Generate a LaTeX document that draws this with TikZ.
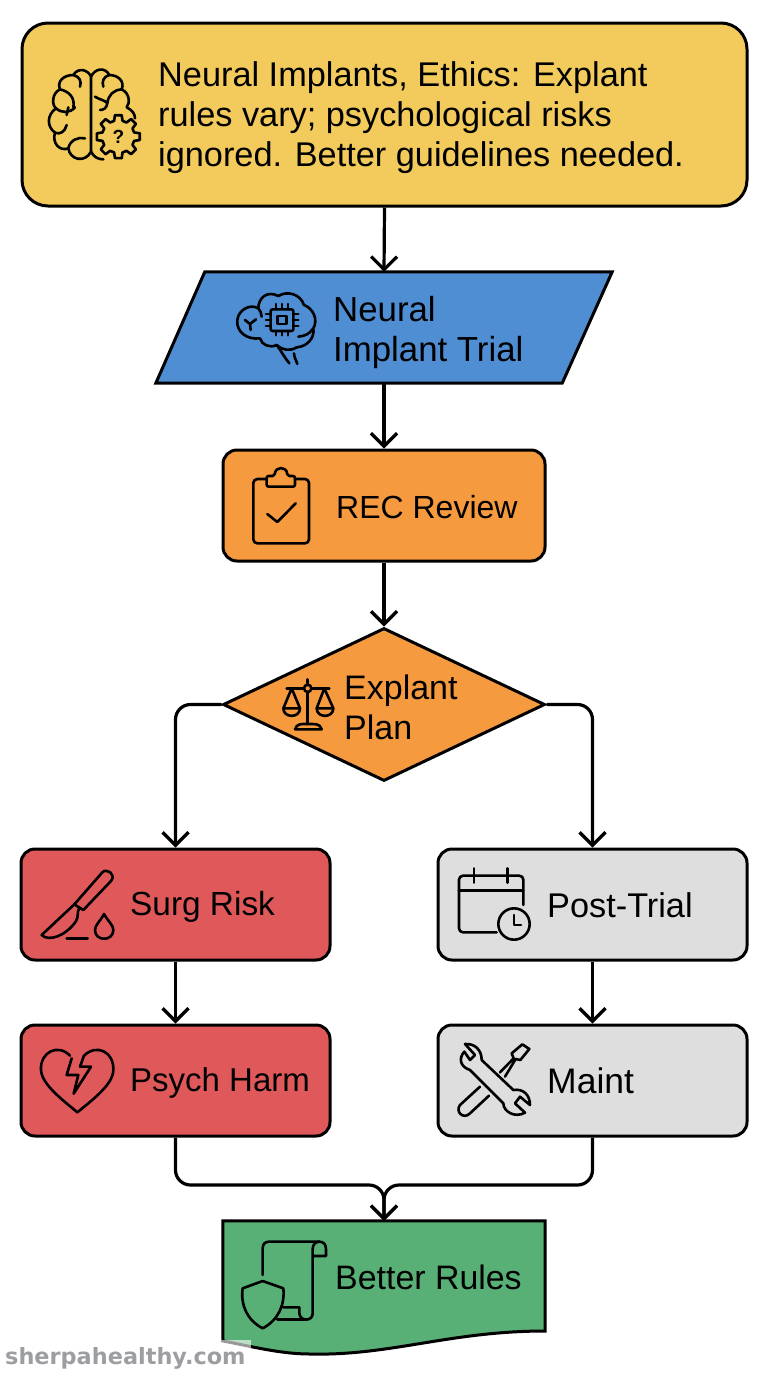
\documentclass[tikz,border=0pt]{standalone}
\usepackage{fontspec}
\setmainfont{Liberation Sans}
\newfontfamily\markfont{DejaVu Sans}
\usetikzlibrary{arrows.meta, positioning, shapes.geometric, calc, backgrounds}
\definecolor{shyellow}{HTML}{F2CB5C}
\definecolor{shblue}{HTML}{4F8ED2}
\definecolor{shorange}{HTML}{F59A3F}
\definecolor{shred}{HTML}{E0595A}
\definecolor{shgrey}{HTML}{DEDEDE}
\definecolor{shgreen}{HTML}{58B076}
\definecolor{shmark}{HTML}{9C9EA2}
\tikzset{
  shapeline/.style={draw=black, line width=3pt},
  flowbox/.style={shapeline, rounded corners=14pt, minimum height=111pt, inner sep=0pt},
  flowline/.style={black, line width=3.2pt, rounded corners=15pt, -{Straight Barb[length=13pt, width=26pt, line width=3.2pt]}},
  iconline/.style={black, line width=2.6pt, line cap=round, line join=round},
  flowtext/.style={anchor=west, inner sep=0pt, align=left, font=\fontsize{#1}{40}\selectfont},
}
\begin{document}
\begin{tikzpicture}[x=1pt, y=-1pt]
\useasboundingbox (0,0) rectangle (768,1376);

% Boxes
\node[flowbox, rounded corners=26pt, fill=shyellow, minimum width=725pt, minimum height=183pt] (summary) at (384.5,114.5) {};
\node[inner sep=0pt, minimum width=456pt, minimum height=111pt] (trial) at (384,327.5) {};
\node[flowbox, fill=shorange, minimum width=322pt] (review) at (384,505.5) {};
\node[shapeline, fill=shorange, diamond, aspect=2.1, inner sep=0pt, minimum width=322pt, minimum height=153pt] (plan) at (384,704.5) {};
\node[flowbox, fill=shred, minimum width=309pt] (surg) at (175.5,904.5) {};
\node[flowbox, fill=shred, minimum width=309pt] (psych) at (175.5,1080.5) {};
\node[flowbox, fill=shgrey, minimum width=309pt] (post) at (592.5,904.5) {};
\node[flowbox, fill=shgrey, minimum width=309pt] (maint) at (592.5,1080.5) {};
\node[inner sep=0pt, minimum width=322pt, minimum height=110pt] (rules) at (384,1276) {};
\begin{scope}[on background layer]
  \draw[shapeline, fill=shblue, line join=miter] ($(trial.north west)+(49,0)$) -- (trial.north east)
    -- ($(trial.south east)+(-50,0)$) -- (trial.south west) -- cycle;
  \draw[shapeline, fill=shgreen, line join=miter] (rules.north west) -- (rules.north east) -- (545,1331)
    .. controls (450,1331) and (390,1356) .. (310,1354) .. controls (280,1354) and (250,1346) .. (223,1341) -- cycle;
\end{scope}

% Labels
\node[flowtext=34.3] (summarytext) at (158,118) {Neural Implants, Ethics: Explant\\rules vary; psychological risks\\ignored. Better guidelines needed.};
\node[flowtext=34.8] (trialtext) at (333,332) {Neural\\Implant Trial};
\node[flowtext=32] (reviewtext) at (336,507) {REC Review};
\node[flowtext=34] (plantext) at (344,707) {Explant\\Plan};
\node[flowtext=33.4] (surgtext) at (130,907) {Surg Risk};
\node[flowtext=33] (psychtext) at (130,1083) {Psych Harm};
\node[flowtext=34.3] (posttext) at (547,905) {Post-Trial};
\node[flowtext=35.5] (mainttext) at (547,1081) {Maint};
\node[flowtext=33.9] (rulestext) at (335,1277) {Better Rules};

% Connectors
\coordinate (merge) at (384,1185);
\draw[flowline] (summary.south) -- (trial.north);
\draw[flowline] (trial.south) -- (review.north);
\draw[flowline] (review.south) -- (plan.north);
\draw[flowline] (plan.west) -| (surg.north);
\draw[flowline] (plan.east) -| (post.north);
\draw[flowline] (surg.south) -- (psych.north);
\draw[flowline] (post.south) -- (maint.north);
\draw[flowline] (psych.south) |- (merge) -- (rules.north);
\draw[flowline] (maint.south) |- (merge) -- (rules.north);

% Brain with gear
\begin{scope}[iconline, shift={(20,20)}, scale=1/3]
  \draw (213,395) -- (213,170) .. controls (205,150) and (175,140) .. (160,165)
    .. controls (130,165) and (110,185) .. (120,208) .. controls (95,220) and (95,255) .. (108,265)
    .. controls (80,285) and (80,320) .. (105,338) .. controls (95,370) and (120,395) .. (145,385)
    .. controls (150,420) and (195,430) .. (213,395);
  \draw (160,165) .. controls (180,170) and (185,185) .. (180,200);
  \draw (108,265) .. controls (125,280) and (150,280) .. (165,262) (120,208) .. controls (150,215) and (165,235) .. (160,262) (145,262) -- (140,285);
  \draw (105,338) .. controls (120,345) and (135,335) .. (140,315);
  \draw (145,385) .. controls (150,360) and (175,350) .. (195,355);
  \draw (213,170) .. controls (225,145) and (255,140) .. (268,165)
    .. controls (295,165) and (315,185) .. (305,208) .. controls (330,220) and (330,250) .. (320,262)
    .. controls (335,270) and (345,280) .. (345,295);
  \draw (268,165) .. controls (250,170) and (245,185) .. (250,200);
  \draw (305,208) .. controls (280,210) and (265,225) .. (262,250) (225,230) .. controls (240,240) and (255,240) .. (262,250) .. controls (260,265) and (250,270) .. (240,270);
  \draw (213,395) .. controls (222,412) and (235,418) .. (250,418);
  \begin{scope}[shift={(295,350)}]
    \foreach \a in {0,45,...,315} {
      \draw (\a-9:65) -- (\a+9:65) -- (\a+15:49) -- (\a+30:49) -- (\a+36:65);
    }
  \end{scope}
  \node[inner sep=0pt, font=\fontsize{19}{19}\selectfont\bfseries] (gearmark) at (295,352) {?};
\end{scope}

% Brain with chip
\begin{scope}[iconline, shift={(150,260)}, scale=1/3]
  \draw (330,235) .. controls (290,240) and (258,215) .. (262,180) .. controls (265,150) and (300,130) .. (325,145)
    .. controls (325,115) and (350,90) .. (385,108) .. controls (410,92) and (450,100) .. (462,135)
    .. controls (490,145) and (505,180) .. (490,205) .. controls (495,235) and (470,260) .. (440,262)
    .. controls (420,275) and (395,270) .. (380,255) .. controls (360,265) and (335,255) .. (330,235);
  \draw (380,255) .. controls (395,275) and (405,295) .. (418,310) (432,280) .. controls (432,290) and (438,300) .. (442,312);
  \draw (325,145) .. controls (330,150) and (335,160) .. (335,170);
  \draw (285,180) -- (300,192) -- (318,178) (300,192) -- (302,210);
  \draw (445,230) .. controls (465,228) and (478,222) .. (487,208);
  \draw[rounded corners=2pt] (362,148) rectangle (430,213);
  \draw (382,168) rectangle (410,192);
  \foreach \p in {0,1,2} {
    \draw (348,162+\p*18) -- (362,162+\p*18);
    \draw (430,162+\p*18) -- (445,162+\p*18);
    \draw (378+\p*18,132) -- (378+\p*18,148);
    \draw (378+\p*18,213) -- (378+\p*18,226);
  }
\end{scope}

% Clipboard
\begin{scope}[iconline, shift={(150,260)}, scale=1/3]
  \draw[rounded corners=4pt] (350,657) -- (310,657) -- (310,850) -- (477,850) -- (477,657) -- (435,657);
  \draw[rounded corners=2pt] (350,680) -- (350,648) -- (374,648) .. controls (376,618) and (410,618) .. (412,648) -- (435,648) -- (435,680) -- cycle;
  \draw (352,762) -- (382,786) -- (437,730);
\end{scope}

% Scales
\begin{scope}[iconline, shift={(170,620)}, scale=1/3]
  \draw (413,178) -- (413,195) (413,216) -- (413,312);
  \draw (350,205) -- (402,205) (424,205) -- (478,205);
  \draw (413,205) circle[radius=11];
  \draw (365,205) -- (340,265) .. controls (340,295) and (390,295) .. (390,265) -- (365,205) (340,265) -- (390,265);
  \draw (463,205) -- (440,265) .. controls (440,295) and (490,295) .. (490,265) -- (463,205) (440,265) -- (490,265);
  \draw (375,328) -- (455,328) .. controls (450,310) and (435,312) .. (413,312) .. controls (395,312) and (380,310) .. (375,328);
\end{scope}

% Scalpel
\begin{scope}[iconline, shift={(15,845)}, scale=1/3]
  \draw (178,178) -- (262,82) .. controls (275,68) and (305,88) .. (288,108) -- (205,195) -- cycle;
  \draw (178,178) -- (80,270) .. controls (100,290) and (150,275) .. (182,230) .. controls (192,215) and (185,205) .. (192,190);
  \draw (155,280) -- (218,280);
  \draw (267,207) .. controls (255,230) and (240,240) .. (240,255) .. controls (240,290) and (295,290) .. (295,255) .. controls (295,240) and (280,230) .. (267,207) -- cycle;
\end{scope}

% Broken heart
\begin{scope}[iconline, shift={(15,845)}, scale=1/3]
  \draw (165,632) .. controls (130,595) and (75,620) .. (78,675) .. controls (80,720) and (150,770) .. (187,802)
    .. controls (225,770) and (295,720) .. (295,675) .. controls (297,620) and (245,595) .. (207,632);
  \draw (170,640) -- (155,690) -- (190,690) -- (176,746) -- (228,665) -- (195,665) -- (207,632);
\end{scope}

% Calendar with clock
\begin{scope}[iconline, shift={(435,845)}, scale=1/3]
  \draw[rounded corners=4pt] (185,262) -- (72,262) -- (72,92) -- (265,92) -- (265,180);
  \draw (72,137) -- (265,137);
  \draw (117,70) -- (117,113) (218,70) -- (218,113);
  \draw (237,237) circle[radius=47];
  \draw (237,210) -- (237,240) -- (258,240);
\end{scope}

% Wrench and screwdriver
\begin{scope}[iconline, shift={(435,845)}, scale=1/3]
  \draw (88,620) .. controls (70,640) and (75,665) .. (105,675) -- (205,775) .. controls (205,800) and (240,820) .. (270,803)
    -- (240,775) -- (255,755) -- (285,780) .. controls (285,750) and (265,730) .. (235,735) -- (140,645) .. controls (140,615) and (120,595) .. (90,597) -- (120,630) -- (105,645) -- cycle;
  \draw (195,682) -- (236,640) -- (230,625) -- (262,598) -- (283,612) -- (256,645) -- (242,642) -- (210,695);
  \draw (135,725) -- (75,780) .. controls (60,800) and (85,825) .. (105,805) -- (162,752);
\end{scope}

% Scroll with shield
\begin{scope}[iconline, shift={(220,1220)}, scale=1/3]
  \draw (128,165) -- (128,85) .. controls (128,72) and (135,65) .. (148,65) -- (298,65) .. controls (312,65) and (318,75) .. (318,88) -- (318,108) -- (280,108);
  \draw (298,65) .. controls (285,65) and (278,75) .. (278,88) -- (278,280) .. controls (278,305) and (240,305) .. (238,280) -- (238,262) -- (190,262);
  \draw (172,298) -- (258,298);
  \draw (128,183) -- (190,205) .. controls (195,255) and (175,300) .. (128,325) .. controls (81,300) and (61,255) .. (68,205) -- cycle;
\end{scope}

% Watermark
\fill[white, opacity=0.6] (222,1340) rectangle (251,1365);
\node[inner sep=0pt, anchor=west, text=shmark, font=\markfont\bfseries\fontsize{22.4}{22}\selectfont] (mark) at (5,1358.5) {sherpahealthy.com};
\end{tikzpicture}
\end{document}
